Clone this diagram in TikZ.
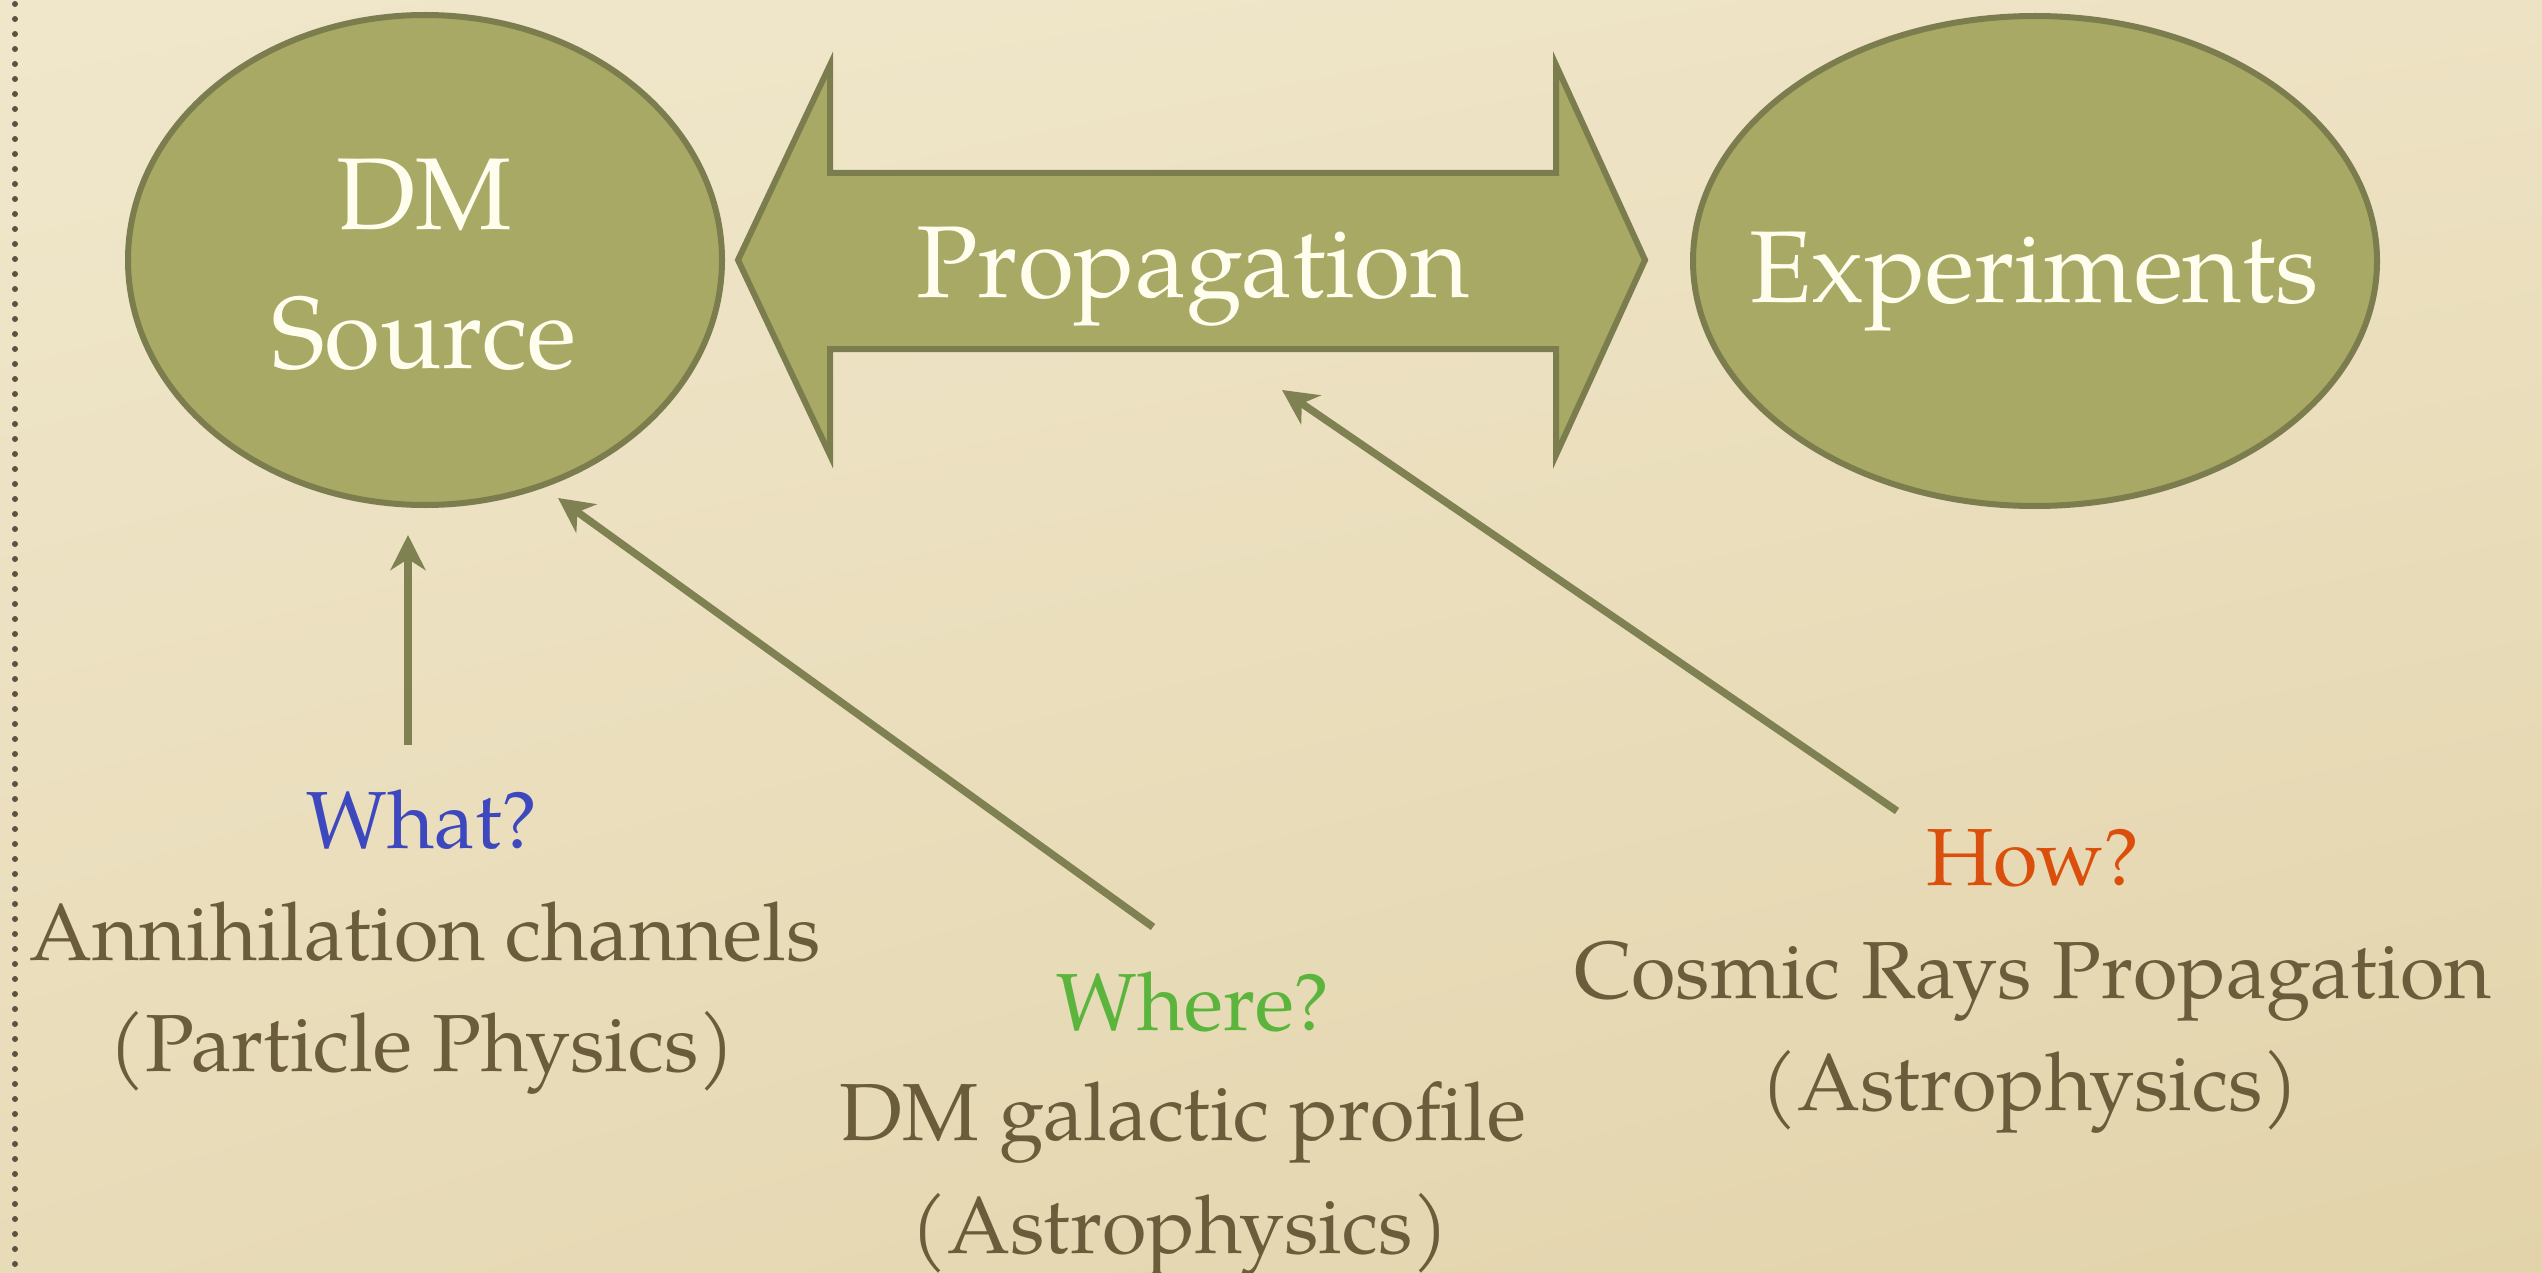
\documentclass[tikz,border=0pt]{standalone}
\usepackage{fontspec}
\setmainfont{texgyrepagella}[Extension=.otf, UprightFont=*-regular, BoldFont=*-bold, ItalicFont=*-italic, BoldItalicFont=*-bolditalic]
\usetikzlibrary{shapes.geometric, arrows.meta, shadings}
\definecolor{bgA}{HTML}{F0E7CB}
\definecolor{bgB}{HTML}{E2D3AA}
\definecolor{bgC}{HTML}{EDE2C3}
\definecolor{bgD}{HTML}{E8DBB8}
\definecolor{olivefill}{HTML}{A8A964}
\definecolor{oliveline}{HTML}{7C7D4E}
\definecolor{olivearrow}{HTML}{7F8152}
\definecolor{creamtext}{HTML}{FFFDEE}
\definecolor{browntext}{HTML}{6B5D3B}
\definecolor{whatblue}{HTML}{3D48BE}
\definecolor{wheregreen}{HTML}{5BB53D}
\definecolor{howorange}{HTML}{DA4F0C}
\definecolor{dotcol}{HTML}{5A5343}
\tikzset{
  blob/.style={ellipse, draw=oliveline, fill=olivefill, line width=6pt, inner sep=0pt},
  bigtext/.style={text=creamtext, font=\fontsize{102}{138}\selectfont, anchor=base, inner sep=0pt},
  lbl/.style={text=browntext, font=\fontsize{81}{112}\selectfont, anchor=base, inner sep=0pt},
  arr/.style={draw=olivearrow, line width=7.5pt, -{Stealth[length=35pt, width=35pt, inset=11pt]}},
  dblarrow/.style={draw=oliveline, fill=olivefill, line width=6pt, line join=miter}
}
\begin{document}
\begin{tikzpicture}[x=1pt, y=-1pt]
\useasboundingbox (0,0) rectangle (2542,1273);
\shade[upper left=bgA, upper right=bgC, lower left=bgD, lower right=bgB] (0,0) rectangle (2542,1273);
% dotted margin line
\draw[dotcol, line width=6pt, line cap=round, dash pattern=on 0pt off 15pt] (15,4) -- (15,1273);

% nodes
\node[blob, minimum width=594pt, minimum height=490pt] (dm) at (425,260) {};
\node[blob, minimum width=684pt, minimum height=490pt] (exp) at (2035,261) {};

% double arrow
\coordinate (pl) at (738,260);
\coordinate (pr) at (1645,260);
\draw[dblarrow] (pl) -- (830,65) -- (830,173) -- (1556,173) -- (1556,65) -- (pr)
  -- (1556,455) -- (1556,349) -- (830,349) -- (830,455) -- cycle;

\node[bigtext] (dmA) at (424,230) {DM};
\node[bigtext] (dmB) at (424,368) {Source};
\node[bigtext] (prop) at (1193,298) {Propagation};
\node[bigtext] (expt) at (2034,302) {Experiments};

% labels
\node[lbl, text=whatblue] (what) at (422,848) {What?};
\node[lbl] (what1) at (425,960) {Annihilation channels};
\node[lbl] (what2) at (422,1071) {(Particle Physics)};

\node[lbl, text=wheregreen] (where) at (1193,1030) {Where?};
\node[lbl] (where1) at (1183,1140) {DM galactic profile};
\node[lbl] (where2) at (1180,1253) {(Astrophysics)};

\node[lbl, text=howorange] (how) at (2033,885) {How?};
\node[lbl] (how1) at (2033,998) {Cosmic Rays Propagation};
\node[lbl] (how2) at (2030,1110) {(Astrophysics)};

% connectors
\coordinate (whatTail) at (408,745);
\coordinate (whatTip) at (408,535);
\coordinate (whereTail) at (1153,927);
\coordinate (whereTip) at (558,498);
\coordinate (howTail) at (1897,811);
\coordinate (howTip) at (1282,390);
\draw[arr] (whatTail) -- (whatTip);
\draw[arr] (whereTail) -- (whereTip);
\draw[arr] (howTail) -- (howTip);
\end{tikzpicture}
\end{document}
